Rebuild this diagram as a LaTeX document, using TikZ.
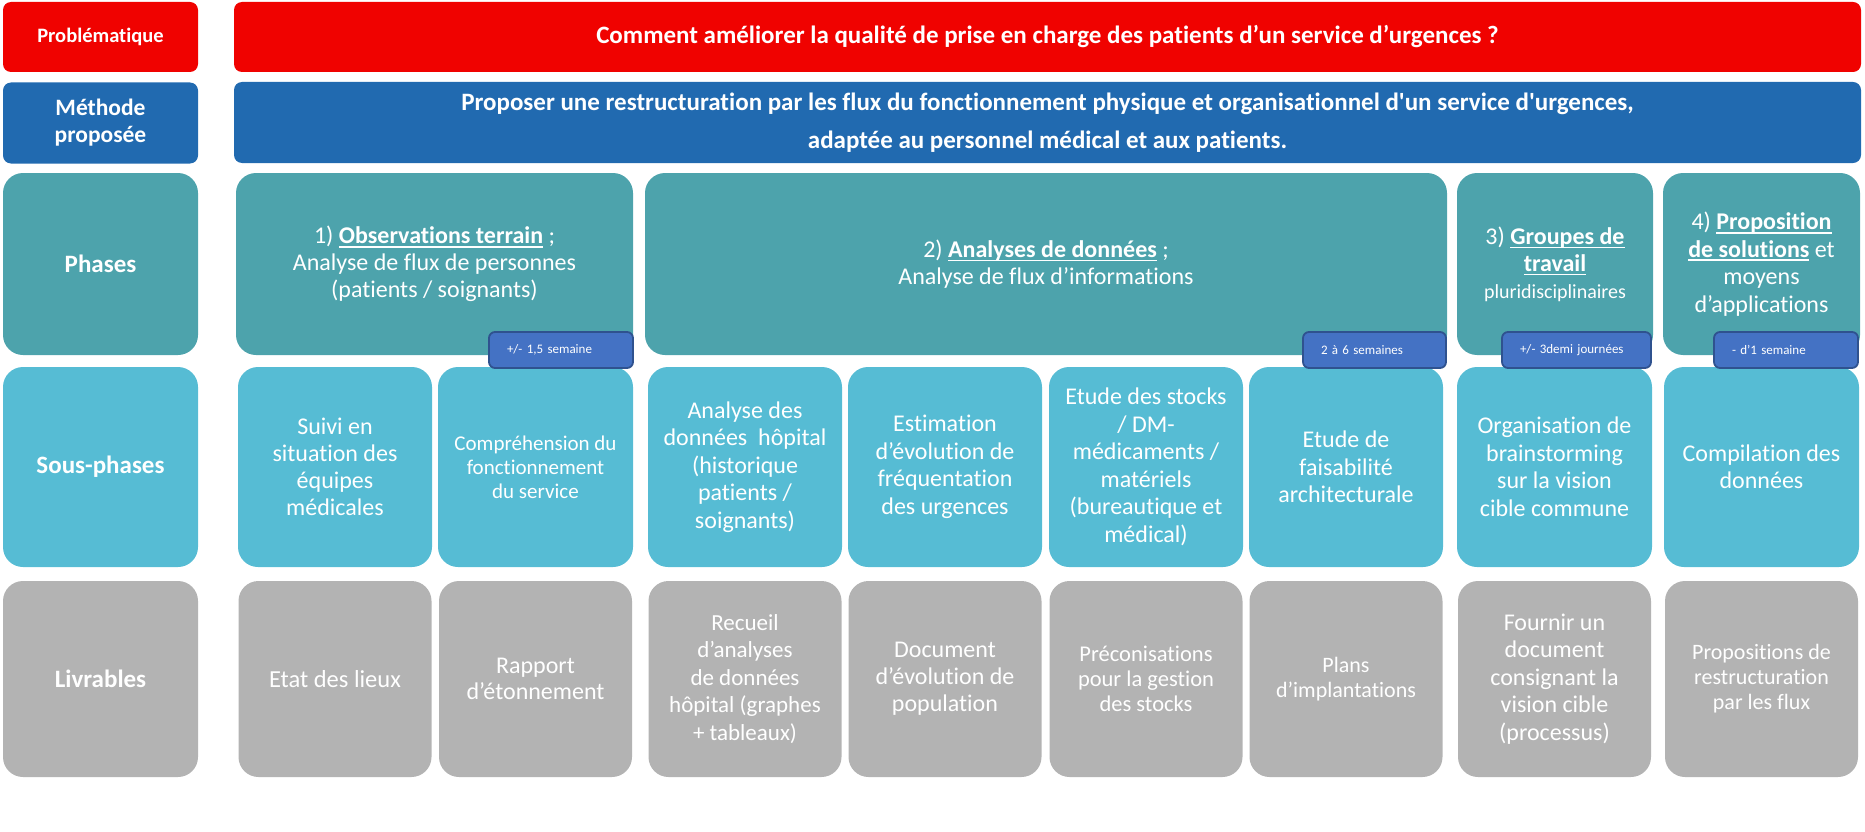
\documentclass[tikz,border=0pt]{standalone}
\usepackage{fontspec}
\setmainfont{Carlito}[Ligatures={TeX,NoCommon}]
\newfontfamily\plainq{Carlito}[Ligatures={NoCommon}]
\definecolor{cRed}{RGB}{240,2,0}
\definecolor{cBlue}{RGB}{33,106,176}
\definecolor{cTeal}{RGB}{77,163,172}
\definecolor{cCyan}{RGB}{86,188,212}
\definecolor{cGray}{RGB}{179,179,179}
\definecolor{cBadge}{RGB}{68,114,196}
\definecolor{cBadgeLine}{RGB}{47,82,143}
\newcommand\fsz[2]{\fontsize{#1}{#2}\selectfont}
\newcommand\sq{{\plainq\bfseries '}}
\newsavebox\ulbox
\newcommand\ulx[1]{\sbox\ulbox{#1}\rlap{\rule[-4pt]{\wd\ulbox}{1.6pt}}\usebox\ulbox}
\tikzset{
  cell/.style={inner sep=0pt, align=center, text=white},
  flat/.style={cell, rounded corners=8pt},
  soft/.style={cell, rounded corners=20pt},
  redbox/.style={flat, fill=cRed},
  bluebox/.style={flat, fill=cBlue},
  phasebox/.style={soft, fill=cTeal},
  subbox/.style={soft, fill=cCyan, minimum width=194, minimum height=200},
  livbox/.style={soft, fill=cGray, minimum width=193, minimum height=196},
  badge/.style={fill=cBadge, draw=cBadgeLine, line width=1.8pt, rounded corners=6pt,
    text=white, align=left, inner xsep=18pt, inner ysep=0pt, minimum height=36,
    font=\fsz{13}{15}},
  labbox/.style={minimum width=195, font=\bfseries\fsz{25}{28}}
}
\begin{document}
\begin{tikzpicture}[x=1pt,y=-1pt]
\useasboundingbox (0,0) rectangle (1865,832);
% ---- row labels
\node[redbox, labbox, minimum height=70, font=\bfseries\fsz{20.5}{24}] (lprob) at (100.5,37) {Problématique};
\node[bluebox, labbox, minimum height=81, font=\bfseries\fsz{23.5}{27}] (lmeth) at (100.5,123) {Méthode\\proposée};
\node[phasebox, labbox, minimum height=182] (lphase) at (100.5,264) {Phases};
\node[subbox, labbox] (lsub) at (100.5,467) {Sous-phases};
\node[livbox, labbox, minimum width=195] (lliv) at (100.5,679) {Livrables};
% ---- row 1 and 2
\node[redbox, minimum width=1627, minimum height=70, font=\bfseries\fsz{25}{28}] (title) at (1047.5,37)
  {Comment améliorer la qualité de prise en charge des patients d’un service d’urgences ?};
\node[bluebox, minimum width=1627, minimum height=81, font=\bfseries\fsz{25}{38.5}] (method) at (1047.5,122.5)
  {Proposer une restructuration par les flux du fonctionnement physique et organisationnel d\sq un service d\sq urgences,\\
   adaptée au personnel médical et aux patients.};
% ---- phases
\node[phasebox, minimum width=397, minimum height=182, font=\fsz{24}{27}] (p1) at (434.5,264)
  {1) \ulx{\bfseries Observations terrain} ;\\Analyse de flux de personnes\\(patients / soignants)};
\node[phasebox, minimum width=802, minimum height=182, font=\fsz{24}{27}] (p2) at (1046,264)
  {2) \ulx{\bfseries Analyses de données} ;\\Analyse de flux d’informations};
\node[phasebox, minimum width=196, minimum height=182, font=\fsz{24}{27}] (p3) at (1555,264)
  {3) \ulx{\bfseries Groupes de}\\\ulx{\bfseries travail}\\{\fsz{20}{27}pluridisciplinaires}};
\node[phasebox, minimum width=197, minimum height=182, font=\fsz{24}{27.5}] (p4) at (1761.5,264)
  {4) \ulx{\bfseries Proposition}\\\ulx{\bfseries de solutions} et\\moyens\\d’applications};
% ---- sous-phases
\node[subbox, font=\fsz{24}{27}] (s1) at (335,467) {Suivi en\\situation des\\équipes\\médicales};
\node[subbox, minimum width=195, font=\fsz{21}{24}] (s2) at (535.5,467) {Compréhension du\\fonctionnement\\du service};
\node[subbox, font=\fsz{24}{27.5}] (s3) at (745,467) {Analyse des\\données~~hôpital\\(historique\\patients /\\soignants)};
\node[subbox, font=\fsz{24}{27.5}] (s4) at (945,467) {Estimation\\d’évolution de\\fréquentation\\des urgences};
\node[subbox, font=\fsz{24}{27.5}] (s5) at (1146,467) {Etude des stocks\\/ DM-\\médicaments /\\matériels\\(bureautique et\\médical)};
\node[subbox, font=\fsz{24}{27.5}] (s6) at (1346,467) {Etude de\\faisabilité\\architecturale};
\node[subbox, minimum width=195, font=\fsz{24}{27.5}] (s7) at (1554.5,467) {Organisation de\\brainstorming\\sur la vision\\cible commune};
\node[subbox, minimum width=195, font=\fsz{24}{27.5}] (s8) at (1761.5,467) {Compilation des\\données};
% ---- badges
\node[badge, text width=108] (b1) at (561,350) {+/- 1,5 semaine};
\node[badge, text width=107] (b2) at (1374.5,350) {2 à 6 semaines};
\node[badge, text width=113] (b3) at (1576.5,350) {+/- 3demi journées};
\node[badge, text width=108] (b4) at (1786,350) {- d’1 semaine};
% ---- livrables
\node[livbox, font=\fsz{24.5}{27}] (l1) at (335,679) {Etat des lieux};
\node[livbox, font=\fsz{24}{26.5}] (l2) at (535.5,679) {Rapport\\d’étonnement};
\node[livbox, font=\fsz{23}{27.5}] (l3) at (745,679) {Recueil\\d’analyses\\de données\\hôpital (graphes\\+ tableaux)};
\node[livbox, font=\fsz{24}{27}] (l4) at (945,679) {Document\\d’évolution de\\population};
\node[livbox, font=\fsz{22.5}{25}] (l5) at (1146,679) {Préconisations\\pour la gestion\\des stocks};
\node[livbox, font=\fsz{22}{25}] (l6) at (1346,679) {Plans\\d’implantations};
\node[livbox, font=\fsz{24}{27.5}] (l7) at (1554.5,679) {Fournir un\\document\\consignant la\\vision cible\\(processus)};
\node[livbox, font=\fsz{22}{25}] (l8) at (1761.5,679) {Propositions de\\restructuration\\par les flux};
\end{tikzpicture}
\end{document}
